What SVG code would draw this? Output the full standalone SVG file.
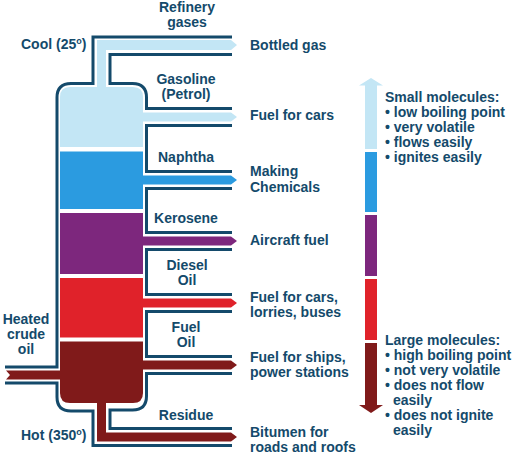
<svg xmlns="http://www.w3.org/2000/svg" width="516" height="462" viewBox="0 0 516 462">
<style>
text{font-family:"Liberation Sans",Arial,sans-serif;font-weight:bold;font-size:14px;fill:#144a6b}
.c{text-anchor:middle}
.ln{fill:none;stroke:#144a6b;stroke-width:3}
.lb{fill:#c3e6f5}.bl{fill:#2b9be0}.pu{fill:#7d277d}.rd{fill:#e0222a}.dr{fill:#801a1a}
</style>
<rect width="516" height="462" fill="#fff"/>
<g id="column">
<path class="lb" d="M60,147 V97 Q60,87 70,87 H133 Q143,87 143,97 V147 Z"/>
<rect class="bl" x="60" y="151.5" width="83" height="57.5"/>
<rect class="pu" x="60" y="213" width="83" height="61"/>
<rect class="rd" x="60" y="278" width="83" height="59.5"/>
<path class="dr" d="M60,341.5 H143 V393 Q143,403 133,403 H70 Q60,403 60,393 Z"/>
</g>
<g id="pipes">
<path class="lb" d="M97,88 V40 H231 L237,45 L231,50 H106 V88 Z"/>
<path class="lb" d="M142,112.5 H231 L237,117 L231,121.5 H142 Z"/>
<path class="bl" d="M142,175.5 H231 L237,180 L231,184.5 H142 Z"/>
<path class="pu" d="M142,236.5 H231 L237,241 L231,245.5 H142 Z"/>
<path class="rd" d="M142,298.5 H231 L237,303 L231,307.5 H142 Z"/>
<path class="dr" d="M142,360.5 H231 L237,365 L231,369.5 H142 Z"/>
<path class="dr" d="M97,402 V441.5 H231 L237,437 L231,432.5 H106 V402 Z"/>
<path class="dr" d="M6,370.5 H61 V379.5 H6 L10,375 Z"/>
</g>
<g id="connectors">
<path class="ln" d="M232,37 H93 V83.5 H71 Q57,83.5 57,97.5 V367 H5"/>
<path class="ln" d="M5,383 H57 V397 Q57,411 71,411 H93 V445.5 H232"/>
<path class="ln" d="M232,54.5 H110 V83.5 H132.5 Q146.5,83.5 146.5,97.5 V108.5 H232"/>
<path class="ln" d="M232,125.5 H146.5 V171.5 H232"/>
<path class="ln" d="M232,188.5 H146.5 V232.5 H232"/>
<path class="ln" d="M232,249.5 H146.5 V294.5 H232"/>
<path class="ln" d="M232,311.5 H146.5 V356.5 H232"/>
<path class="ln" d="M232,373.5 H146.5 V396 Q146.5,410 132.5,410 H110 V428.5 H232"/>
</g>
<g id="scale">
<path class="lb" d="M365,149 V85.5 H359 L371,78 L383,85.5 H377 V149 Z"/>
<rect class="bl" x="365" y="152" width="12" height="60"/>
<rect class="pu" x="365" y="215" width="12" height="61"/>
<rect class="rd" x="365" y="279" width="12" height="61"/>
<path class="dr" d="M365,343 H377 V405 H383 L371,413 L359,405 H365 Z"/>
</g>
<g id="labels">
<text class="c" x="187" y="12">Refinery</text>
<text class="c" x="187" y="27">gases</text>
<text x="21" y="49">Cool (25<tspan font-size="9" dy="-5">o</tspan><tspan dy="5">)</tspan></text>
<text class="c" x="186" y="84">Gasoline</text>
<text class="c" x="186" y="99">(Petrol)</text>
<text class="c" x="186" y="162">Naphtha</text>
<text class="c" x="186" y="223">Kerosene</text>
<text class="c" x="187" y="270">Diesel</text>
<text class="c" x="187" y="285">Oil</text>
<text class="c" x="186" y="332">Fuel</text>
<text class="c" x="186" y="347">Oil</text>
<text class="c" x="186" y="420">Residue</text>
<text x="21" y="440">Hot (350<tspan font-size="9" dy="-5">o</tspan><tspan dy="5">)</tspan></text>
<text class="c" x="26" y="324">Heated</text>
<text class="c" x="26" y="339">crude</text>
<text class="c" x="26" y="354">oil</text>
<text x="250" y="50">Bottled gas</text>
<text x="250" y="120">Fuel for cars</text>
<text x="250" y="176">Making</text>
<text x="250" y="192">Chemicals</text>
<text x="250" y="245">Aircraft fuel</text>
<text x="250" y="302">Fuel for cars,</text>
<text x="250" y="317">lorries, buses</text>
<text x="250" y="362">Fuel for ships,</text>
<text x="250" y="377">power stations</text>
<text x="250" y="437">Bitumen for</text>
<text x="250" y="452">roads and roofs</text>
<text x="385" y="102">Small molecules:</text>
<text x="385" y="117">• low boiling point</text>
<text x="385" y="132">• very volatile</text>
<text x="385" y="147">• flows easily</text>
<text x="385" y="162">• ignites easily</text>
<text x="385" y="345">Large molecules:</text>
<text x="385" y="360">• high boiling point</text>
<text x="385" y="375">• not very volatile</text>
<text x="385" y="390">• does not flow</text>
<text x="393" y="405">easily</text>
<text x="385" y="420">• does not ignite</text>
<text x="393" y="435">easily</text>
</g>
</svg>
